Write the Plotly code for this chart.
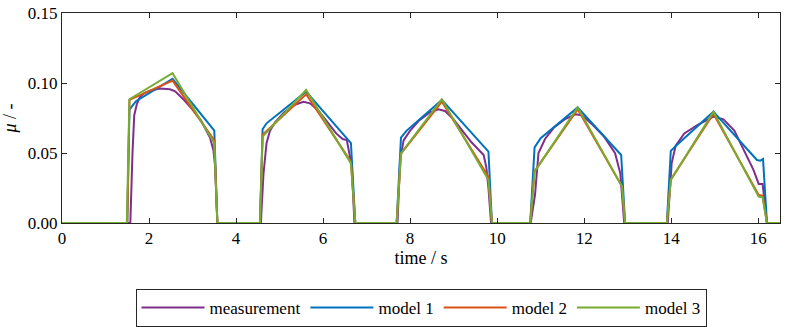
import plotly.graph_objects as go

# ---- data ----
meas_t = [0, 1.57, 1.62, 1.66, 1.72, 1.79, 1.9, 2.02, 2.25, 2.48, 2.6, 2.8, 3.0, 3.2, 3.4, 3.48, 3.52, 3.57,
          4.57, 4.63, 4.70, 4.78, 4.9, 5.1, 5.35, 5.55, 5.7, 5.9, 6.1, 6.3, 6.45, 6.545, 6.62, 6.66, 6.72,
          7.71, 7.77, 7.85, 8.0, 8.2, 8.45, 8.65, 8.8, 9.0, 9.2, 9.4, 9.69, 9.75, 9.80, 9.86,
          10.77, 10.87, 10.95, 11.1, 11.3, 11.55, 11.8, 11.95, 12.2, 12.45, 12.71, 12.83, 12.92,
          13.92, 14.01, 14.1, 14.3, 14.6, 14.97, 15.2, 15.45, 15.74, 15.89, 16.01, 16.10, 16.2, 16.5]
meas_y = [0, 0, 0.050, 0.077, 0.085, 0.090, 0.093, 0.0945, 0.096, 0.0955, 0.094, 0.088, 0.081, 0.073, 0.061, 0.052, 0.040, 0,
          0, 0.035, 0.057, 0.066, 0.072, 0.079, 0.0845, 0.0866, 0.0855, 0.080, 0.072, 0.064, 0.060, 0.0593, 0.047, 0.040, 0,
          0, 0.045, 0.059, 0.066, 0.073, 0.079, 0.0812, 0.080, 0.074, 0.066, 0.058, 0.0486, 0.040, 0.025, 0,
          0, 0.020, 0.050, 0.060, 0.068, 0.074, 0.0776, 0.077, 0.070, 0.062, 0.0498, 0.0355, 0,
          0, 0.0426, 0.055, 0.064, 0.070, 0.076, 0.074, 0.066, 0.0474, 0.038, 0.0279, 0.0279, 0, 0]

m1_t = [0, 1.50, 1.55, 1.70, 2.54, 3.50, 3.57,
        4.55, 4.61, 4.70, 5.61, 6.64, 6.74,
        7.69, 7.79, 7.92, 8.73, 9.80, 9.88,
        10.76, 10.86, 11.0, 11.85, 12.85, 12.94,
        13.90, 13.99, 14.13, 14.97, 15.97, 16.05, 16.11, 16.2, 16.5]
m1_y = [0, 0, 0.081, 0.087, 0.103, 0.066, 0,
        0, 0.067, 0.0712, 0.0938, 0.057, 0,
        0, 0.061, 0.066, 0.0879, 0.051, 0,
        0, 0.054, 0.0605, 0.0826, 0.0486, 0,
        0, 0.0515, 0.0557, 0.0795, 0.045, 0.0445, 0.0457, 0, 0]

m2_t = [0, 1.50, 1.55, 2.54, 3.50, 3.57,
        4.55, 4.61, 5.61, 6.64, 6.74,
        7.69, 7.79, 8.73, 9.80, 9.88,
        10.76, 10.86, 11.85, 12.87, 12.94,
        13.90, 13.99, 14.97, 16.01, 16.10, 16.2, 16.5]
m2_y = [0, 0, 0.088, 0.1017, 0.059, 0,
        0, 0.063, 0.092, 0.0438, 0,
        0, 0.0495, 0.0867, 0.033, 0,
        0, 0.037, 0.0812, 0.026, 0,
        0, 0.031, 0.078, 0.020, 0.0195, 0, 0]

m3_t = [0, 1.49, 1.55, 2.54, 3.50, 3.57,
        4.55, 4.61, 5.61, 6.64, 6.74,
        7.69, 7.79, 8.73, 9.80, 9.88,
        10.76, 10.86, 11.85, 12.87, 12.94,
        13.90, 13.99, 14.97, 16.01, 16.10, 16.2, 16.5]
m3_y = [0, 0, 0.0884, 0.107, 0.057, 0,
        0, 0.0617, 0.095, 0.0426, 0,
        0, 0.0498, 0.0884, 0.0307, 0,
        0, 0.0367, 0.0826, 0.026, 0,
        0, 0.0307, 0.0795, 0.0188, 0.0183, 0, 0]

names = ["measurement", "model 1", "model 2", "model 3"]
colors = ["#7E2F8E", "#0072BD", "#D95319", "#77AC30"]
x_ticks = [0, 2, 4, 6, 8, 10, 12, 14, 16]
y_ticks = [0, 0.05, 0.10, 0.15]

series = [(meas_t, meas_y), (m1_t, m1_y), (m2_t, m2_y), (m3_t, m3_y)]

fig = go.Figure()
for (t, y), n, c in zip(series, names, colors):
    fig.add_trace(go.Scatter(x=t, y=y, mode="lines", name=n,
                             line=dict(color=c, width=2)))

font = "Liberation Serif"
axis_common = dict(showline=True, linecolor="#262626", linewidth=1, mirror="allticks",
                   ticks="inside", ticklen=5, tickcolor="#262626", showgrid=False,
                   zeroline=False, automargin=False,
                   tickfont=dict(family=font, size=17, color="#000"))
fig.update_xaxes(range=[0, 16.5], tickvals=x_ticks, ticktext=[str(v) for v in x_ticks],
                 title=dict(text="time / s", font=dict(family=font, size=18, color="#000"), standoff=3),
                 **axis_common)
fig.update_yaxes(range=[0, 0.15], tickvals=y_ticks, ticktext=["%.2f" % v for v in y_ticks],
                 title=dict(text="<i>μ</i> / -", font=dict(family=font, size=18, color="#000")),
                 **axis_common)

fig.update_layout(
    width=788, height=327,
    margin=dict(l=62, r=8, t=13, b=104, autoexpand=False),
    plot_bgcolor="white", paper_bgcolor="white",
    font=dict(family=font, size=17, color="#000"),
    legend=dict(orientation="h", x=0.5, xanchor="center",
                yref="container", y=0.116, yanchor="top",
                bordercolor="#262626", borderwidth=1, bgcolor="white",
                font=dict(family=font, size=17, color="#000"),
                itemwidth=63, tracegroupgap=0),
    showlegend=True,
)

fig.write_html("out.html", post_script="document.body.style.margin='0';document.body.style.padding='0';",
               config={"displayModeBar": False})
